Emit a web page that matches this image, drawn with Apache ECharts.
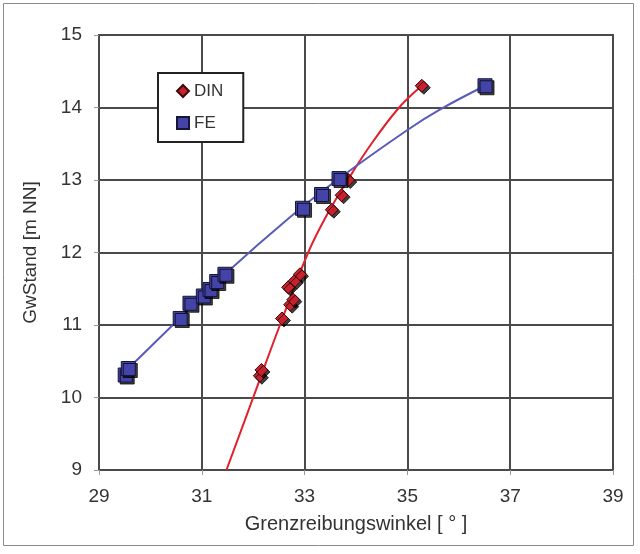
<!DOCTYPE html>
<html>
<head>
<meta charset="utf-8">
<script src="https://cdn.jsdelivr.net/npm/echarts@6/dist/echarts.min.js"></script>
<style>
html,body{margin:0;padding:0;background:#fff;}
#chart{width:640px;height:554px;}
</style>
</head>
<body>
<div id="chart"></div>
<script>
// Data
const xTicks = [29, 31, 33, 35, 37, 39];
const yTicks = [9, 10, 11, 12, 13, 14, 15];

// DIN measurement points [Grenzreibungswinkel, GwStand]
const dinPoints = [
  [32.13, 10.30], [32.16, 10.38], [32.56, 11.09], [32.72, 11.28], [32.78, 11.35],
  [32.68, 11.52], [32.81, 11.61], [32.91, 11.70], [33.53, 12.59], [33.72, 12.79],
  [33.85, 13.00], [35.28, 14.30]
];
// FE measurement points
const fePoints = [
  [29.51, 10.31], [29.57, 10.40], [30.58, 11.09], [30.77, 11.30], [31.03, 11.40],
  [31.16, 11.49], [31.29, 11.60], [31.45, 11.70], [32.96, 12.61], [33.33, 12.80],
  [33.67, 13.02], [36.51, 14.30]
];
// Trend curves, points
const dinCurve = [
  [31.48, 9.00], [32.00, 10.00], [32.52, 11.00], [33.07, 12.00], [33.42, 12.50],
  [33.84, 13.00], [34.30, 13.50], [34.84, 14.00], [35.28, 14.30]
];
const feCurve = [
  [29.57, 10.40], [30.58, 11.10], [31.45, 11.70], [32.72, 12.49], [33.67, 13.02],
  [35.00, 13.69], [35.63, 13.97], [36.51, 14.30]
];

const chart = echarts.init(document.getElementById('chart'), null, {renderer: 'canvas'});
const font = 'Liberation Sans, Arial, sans-serif';
const gridColor = '#4a4a4a';

chart.setOption({
  animation: false,
  backgroundColor: '#ffffff',
  textStyle: {fontFamily: font},
  graphic: [{
    type: 'rect',
    shape: {x: 3.5, y: 3.5, width: 630, height: 542},
    style: {fill: 'none', stroke: '#8a8a8a', lineWidth: 1},
    silent: true, z: -10
  }],
  grid: {left: 99, right: 27, top: 35, bottom: 84, show: true, borderColor: gridColor, borderWidth: 2, backgroundColor: '#fff'},
  legend: {
    data: ['DIN', 'FE'],
    orient: 'vertical',
    left: 158, top: 73,
    padding: [9, 20, 10, 18],
    itemGap: 14,
    itemWidth: 12, itemHeight: 12,
    backgroundColor: '#fff',
    borderColor: '#222', borderWidth: 2, borderRadius: 0,
    textStyle: {fontSize: 17, color: '#333', fontFamily: font, lineHeight: 18}
  },
  xAxis: {
    type: 'value', min: xTicks[0], max: xTicks[xTicks.length - 1], interval: 2,
    name: 'Grenzreibungswinkel [ ° ]', nameLocation: 'middle', nameGap: 44,
    nameTextStyle: {fontSize: 20, color: '#333', fontFamily: font},
    axisLine: {show: true, onZero: false, lineStyle: {color: gridColor, width: 2}},
    axisTick: {show: true, length: 5, lineStyle: {color: '#999', width: 1}},
    axisLabel: {fontSize: 19, color: '#333', margin: 17, fontFamily: font},
    splitLine: {show: true, lineStyle: {color: gridColor, width: 2}}
  },
  yAxis: {
    type: 'value', min: yTicks[0], max: yTicks[yTicks.length - 1], interval: 1,
    name: 'GwStand [m NN]', nameLocation: 'middle', nameGap: 59, nameRotate: 90,
    nameTextStyle: {fontSize: 19, color: '#333', fontFamily: font},
    axisLine: {show: true, onZero: false, lineStyle: {color: gridColor, width: 2}},
    axisTick: {show: true, length: 5, lineStyle: {color: '#999', width: 1}},
    axisLabel: {fontSize: 19, color: '#333', margin: 17, fontFamily: font},
    splitLine: {show: true, lineStyle: {color: gridColor, width: 2}}
  },
  series: [
    {
      name: 'DIN-Trend', type: 'line', data: dinCurve, smooth: 0.4, showSymbol: false,
      lineStyle: {color: '#e0202a', width: 2}, z: 3, clip: true
    },
    {
      name: 'FE-Trend', type: 'line', data: feCurve, smooth: 0.4, showSymbol: false,
      lineStyle: {color: '#5a5ab8', width: 2}, z: 3, clip: true
    },
    {
      name: 'DIN', type: 'scatter', data: dinPoints, symbol: 'diamond', symbolSize: [13, 13],
      itemStyle: {color: '#c8202c', borderColor: '#3a0a0a', borderWidth: 1, opacity: 1,
        shadowColor: 'rgba(0,0,0,0.75)', shadowOffsetX: 2, shadowOffsetY: 2, shadowBlur: 0},
      z: 5
    },
    {
      name: 'FE', type: 'scatter', data: fePoints, symbol: 'rect', symbolSize: [14, 14],
      itemStyle: {color: '#4444a8', borderColor: '#15153a', borderWidth: 1, opacity: 1,
        shadowColor: 'rgba(0,0,0,0.75)', shadowOffsetX: 2, shadowOffsetY: 2, shadowBlur: 0},
      z: 5
    }
  ]
});
</script>
</body>
</html>
